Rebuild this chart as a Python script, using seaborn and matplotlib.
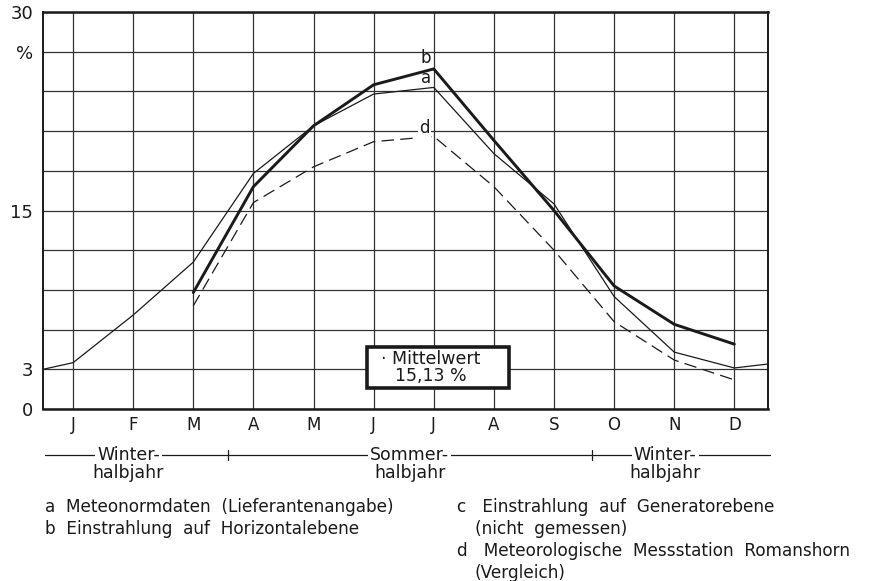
import numpy as np
import pandas as pd
import matplotlib
matplotlib.use("Agg")
import matplotlib.pyplot as plt
from matplotlib.patches import Rectangle
import seaborn as sns

# Monatswerte in %
months = ["J", "F", "M", "A", "M", "J", "J", "A", "S", "O", "N", "D"]
month_pos = list(range(12))

# a: Meteonormdaten, inkl. Anschluss an Dez. Vorjahr / Jan. Folgejahr
a_values = [3.5, 7.1, 11.1, 17.8, 21.4, 23.8, 24.3, 19.3, 15.5, 8.5, 4.3, 3.1]
a_edge_left = 3.0
a_edge_right = 3.4
# b: Einstrahlung Horizontalebene (ab Maerz)
b_values = [np.nan, np.nan, 8.8, 16.8, 21.4, 24.5, 25.7, 20.3, 15.0, 9.3, 6.4, 4.9]
# d: Meteorologische Messstation Romanshorn (ab Maerz)
d_values = [np.nan, np.nan, 7.8, 15.6, 18.3, 20.2, 20.6, 16.8, 12.0, 6.6, 3.7, 2.2]

y_ticks = list(range(0, 31, 3))
y_labels = ["0", "3", "", "", "", "15", "", "", "", "%", "30"]
mittelwert = "15,13"

sns.set_style("white")
plt.rcParams["font.family"] = ["DejaVu Sans"]

fig = plt.figure(figsize=(8.77, 5.81), dpi=100)
ax = fig.add_axes([43 / 877, 1 - 409 / 581, (768 - 43) / 877, (409 - 12) / 581])

x_min, x_max = -0.5, 11.56
a_df = pd.DataFrame({"x": [x_min] + month_pos + [x_max],
                     "y": [a_edge_left] + a_values + [a_edge_right]})
b_df = pd.DataFrame({"x": month_pos, "y": b_values}).dropna()
d_df = pd.DataFrame({"x": month_pos, "y": d_values}).dropna()

ink = "#1a1a1a"
sns.lineplot(data=a_df, x="x", y="y", ax=ax, color=ink, lw=0.9, zorder=3)
sns.lineplot(data=b_df, x="x", y="y", ax=ax, color=ink, lw=2.1, zorder=4)
sns.lineplot(data=d_df, x="x", y="y", ax=ax, color=ink, lw=0.9,
             zorder=3).lines[-1].set_dashes([10, 5])

ax.set_xlim(x_min, x_max)
ax.set_ylim(0, 30)
ax.set_xticks(month_pos)
ax.set_xticklabels(months, fontsize=12, color=ink)
ax.set_yticks(y_ticks)
ax.set_yticklabels(y_labels, fontsize=13, color=ink)
ax.tick_params(length=0, axis="x", pad=5)
ax.tick_params(length=0, axis="y", pad=7)
ax.set_xlabel("")
ax.set_ylabel("")
ax.grid(True, color="#333333", lw=0.9)
ax.set_axisbelow(True)
for side, w in [("top", 1.8), ("bottom", 1.8), ("left", 1.4), ("right", 1.4)]:
    ax.spines[side].set_visible(True)
    ax.spines[side].set_color(ink)
    ax.spines[side].set_linewidth(w)

# Kurvenbeschriftung
lab_kw = dict(fontsize=12, color=ink, ha="center", va="center", zorder=5)
ax.text(5.87, 26.5, "b", **lab_kw)
ax.text(5.87, 25.0, "a", **lab_kw)
ax.text(5.84, 21.2, "d", bbox=dict(facecolor="white", edgecolor="none",
                                   pad=1.0), **lab_kw)

# Mittelwert-Kasten
ax.add_patch(Rectangle((4.89, 1.59), 2.36, 3.1, facecolor="white",
                       edgecolor=ink, lw=2.6, zorder=6))
ax.text(5.95, 3.15, "\u00b7 Mittelwert\n" + mittelwert + " %", fontsize=12.5,
        ha="center", va="center", color=ink, linespacing=0.9, zorder=7)

# Halbjahres-Leiste
tr = ax.get_xaxis_transform()
y_bar = -0.116
ax.plot([-0.47, 11.6], [y_bar, y_bar], transform=tr, color=ink, lw=0.9,
        clip_on=False)
for xt in [2.58, 8.64]:
    ax.plot([xt, xt], [y_bar - 0.012, y_bar + 0.012], transform=tr,
            color=ink, lw=0.9, clip_on=False)
seasons = [(0.92, "Winter-"), (5.6, "Sommer-"), (9.85, "Winter-")]
for xs, name in seasons:
    ax.text(xs, y_bar, name, transform=tr, fontsize=12.5, ha="center",
            va="center", color=ink, clip_on=False,
            bbox=dict(facecolor="white", edgecolor="none", pad=1.5))
    ax.text(xs, y_bar - 0.045, "halbjahr", transform=tr, fontsize=12.5,
            ha="center", va="center", color=ink, clip_on=False)

# Legende
leg_kw = dict(fontsize=12.2, color=ink, va="center")
fig.text(45 / 877, 1 - 507 / 581, "a  Meteonormdaten  (Lieferantenangabe)", **leg_kw)
fig.text(45 / 877, 1 - 529 / 581, "b  Einstrahlung  auf  Horizontalebene", **leg_kw)
fig.text(457 / 877, 1 - 507 / 581, "c   Einstrahlung  auf  Generatorebene", **leg_kw)
fig.text(475 / 877, 1 - 529 / 581, "(nicht  gemessen)", **leg_kw)
fig.text(457 / 877, 1 - 551 / 581, "d   Meteorologische  Messstation  Romanshorn", **leg_kw)
fig.text(475 / 877, 1 - 573 / 581, "(Vergleich)", **leg_kw)

fig.savefig("out.png", dpi=100, facecolor="white")
